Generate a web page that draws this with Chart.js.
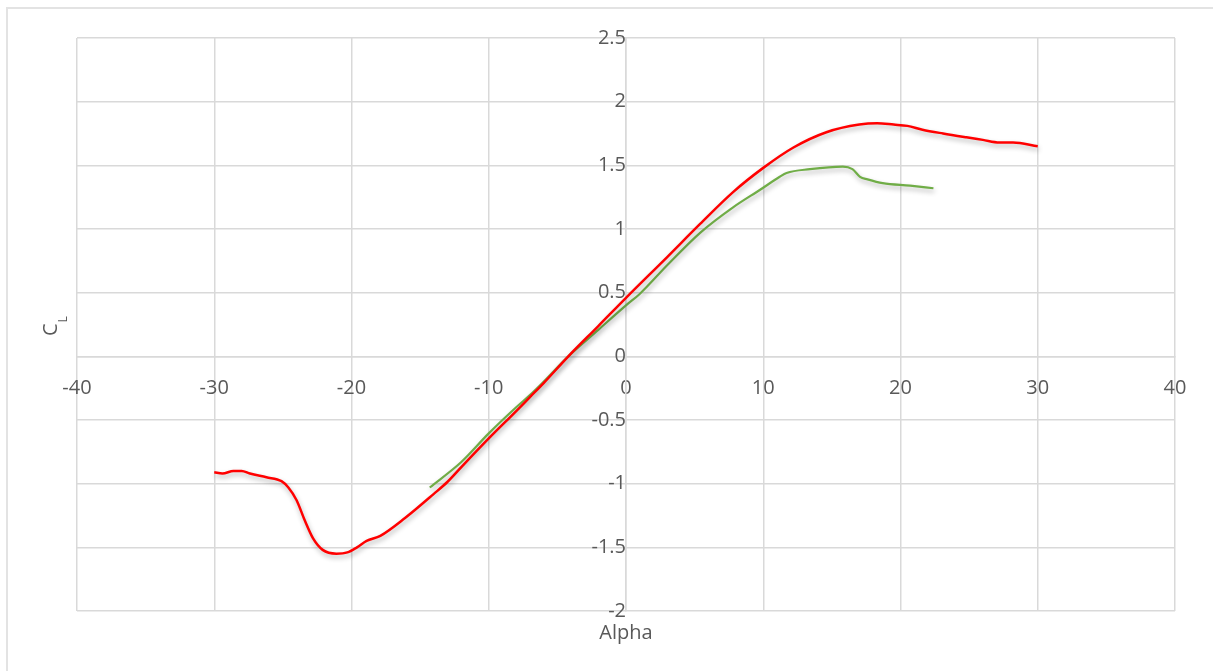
<!DOCTYPE html>
<html>
<head>
<meta charset="utf-8">
<script src="https://cdn.jsdelivr.net/npm/chart.js@4"></script>
<style>
  html, body { margin: 0; padding: 0; background: #fff; }
  #wrap { width: 1213px; height: 671px; position: relative; }
</style>
</head>
<body>
<div id="wrap"><canvas id="clChart"></canvas></div>
<script>
// ================= DATA =================
const redAlpha = [-30, -29.4, -28.6, -28, -27.4, -26.2, -25.1, -24.6, -24, -23.4, -22.8, -22.1, -21.1, -20.3, -19.6, -18.9, -17.9, -16.1, -14, -13, -12, -10, -8, -7, -6, -4.2, -2, 0, 3, 5.4, 7.8, 10, 12.2, 14.6, 17, 18.3, 19.5, 20.5, 21.6, 23.1, 24.8, 26, 27.2, 28.2, 30];
const redCL = [-0.91, -0.92, -0.90, -0.90, -0.92, -0.95, -0.98, -1.03, -1.13, -1.29, -1.43, -1.52, -1.55, -1.54, -1.50, -1.45, -1.41, -1.27, -1.08, -0.985, -0.87, -0.645, -0.43, -0.32, -0.21, 0.0, 0.24, 0.46, 0.78, 1.04, 1.29, 1.48, 1.64, 1.76, 1.82, 1.83, 1.82, 1.81, 1.78, 1.75, 1.72, 1.70, 1.68, 1.68, 1.65];

const greenAlpha = [-14.3, -12, -10, -8, -7, -6, -4.2, -2, 0, 1, 3, 5.4, 7.8, 9.8, 11.2, 11.7, 13.4, 15.8, 16.5, 17.05, 17.6, 18.7, 20.7, 22.4];
const greenCL = [-1.03, -0.83, -0.605, -0.40, -0.305, -0.20, 0.0, 0.21, 0.40, 0.49, 0.715, 0.97, 1.17, 1.31, 1.41, 1.44, 1.47, 1.49, 1.47, 1.41, 1.39, 1.36, 1.34, 1.32];

const xTicks = [-40, -30, -20, -10, 0, 10, 20, 30, 40];
const yTicks = [-2, -1.5, -1, -0.5, 0, 0.5, 1, 1.5, 2, 2.5];

const xTitle = "Alpha";
const yTitleMain = "C";
const yTitleSub = "L";

// ================= COMMON =================
const FONT = "'Open Sans', sans-serif";
const TEXT = "#595959";
const GRID = "#d9d9d9";

const toPoints = (xs, ys) => xs.map((x, i) => ({ x: x, y: ys[i] }));

// soft shadow under each line
const lineShadow = {
    id: "lineShadow",
    beforeDatasetDraw(chart) {
        const ctx = chart.ctx;
        ctx.save();
        ctx.shadowColor = "rgba(0,0,0,0.3)";
        ctx.shadowBlur = 5;
        ctx.shadowOffsetX = 1;
        ctx.shadowOffsetY = 3;
    },
    afterDatasetDraw(chart) {
        chart.ctx.restore();
    }
};

// outer frame + axis titles (C with subscript L)
const frameAndTitles = {
    id: "frameAndTitles",
    beforeDraw(chart) {
        const ctx = chart.ctx;
        ctx.save();
        ctx.strokeStyle = "#e3e3e3";
        ctx.lineWidth = 2;
        ctx.strokeRect(7, 8, chart.width, chart.height);
        ctx.restore();
    },
    afterDraw(chart) {
        const ctx = chart.ctx;
        ctx.save();
        ctx.fillStyle = TEXT;
        ctx.textBaseline = "alphabetic";

        ctx.font = "20px " + FONT;
        ctx.textAlign = "center";
        ctx.fillText(xTitle, 626, 639);

        ctx.translate(57, 336);
        ctx.rotate(-Math.PI / 2);
        ctx.textAlign = "left";
        ctx.font = "20px " + FONT;
        ctx.fillText(yTitleMain, 0, 0);
        const w = ctx.measureText(yTitleMain).width;
        ctx.font = "12px " + FONT;
        ctx.fillText(yTitleSub, w + 1, 10);
        ctx.restore();
    }
};

// ================= CL vs ALPHA (LINE) =================
new Chart(document.getElementById("clChart"), {
    type: "line",
    data: {
        datasets: [
            {
                data: toPoints(redAlpha, redCL),
                borderColor: "#ff0000",
                borderWidth: 2.5,
                pointRadius: 0,
                cubicInterpolationMode: "monotone",
                fill: false
            },
            {
                data: toPoints(greenAlpha, greenCL),
                borderColor: "#70ad47",
                borderWidth: 2.2,
                pointRadius: 0,
                cubicInterpolationMode: "monotone",
                fill: false
            }
        ]
    },
    options: {
        responsive: true,
        maintainAspectRatio: false,
        animation: false,
        layout: {
            padding: { left: 77, top: 38, right: 38, bottom: 60 }
        },
        plugins: {
            legend: { display: false },
            tooltip: { enabled: false }
        },
        scales: {
            x: {
                type: "linear",
                position: { y: 0 },
                min: -40,
                max: 40,
                afterBuildTicks: s => { s.ticks = xTicks.map(v => ({ value: v })); },
                grid: { color: GRID, lineWidth: 1.5, drawTicks: false },
                border: { color: GRID, width: 1.5 },
                ticks: {
                    autoSkip: false,
                    maxRotation: 0,
                    padding: 20,
                    color: TEXT,
                    font: { family: FONT, size: 20 },
                    callback: v => String(v)
                }
            },
            y: {
                type: "linear",
                position: { x: 0 },
                min: -2,
                max: 2.5,
                afterBuildTicks: s => { s.ticks = yTicks.map(v => ({ value: v })); },
                grid: { color: GRID, lineWidth: 1.5, drawTicks: false },
                border: { color: GRID, width: 1.5 },
                ticks: {
                    autoSkip: false,
                    padding: 23,
                    color: TEXT,
                    font: { family: FONT, size: 20 },
                    callback: v => String(v)
                }
            }
        }
    },
    plugins: [lineShadow, frameAndTitles]
});
</script>
</body>
</html>
